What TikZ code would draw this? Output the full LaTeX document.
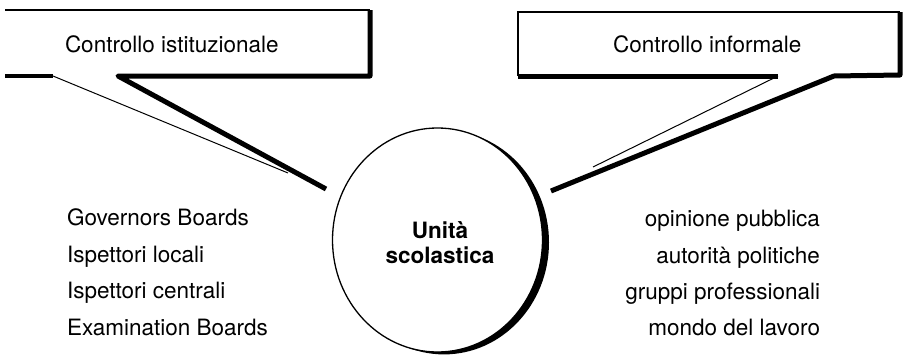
\documentclass[tikz,border=0pt]{standalone}
\usepackage{fontspec}
\setmainfont{TeX Gyre Heros}
\begin{document}
\begin{tikzpicture}[x=1pt,y=-1pt,
  font=\fontsize{22.5}{25}\selectfont,
  txt/.style={inner sep=0pt, outer sep=0pt},
  thinline/.style={line width=1pt},
  edgeline/.style={line width=2pt},
  heavyline/.style={line width=5pt, line join=round},
  circleline/.style={line width=1.3pt}]
\useasboundingbox (0,0) rectangle (905,356);

% left callout box
\coordinate (L1) at (5,10);
\coordinate (L2) at (370,10);
\coordinate (L3) at (370,76);
\coordinate (L4) at (118,76);
\coordinate (Ltip) at (326,189);
\coordinate (L5) at (53,76);
\coordinate (L6) at (5,76);
\coordinate (Lthin) at (288,173);
\draw[edgeline] (L1) -- (L2);
\draw[heavyline] (L2) -- (L3) -- (L4) -- (Ltip);
\draw[line width=4pt] (L6) -- (L5);
\draw[thinline] (L5) -- (Lthin);

% right callout box
\coordinate (R1) at (518,12);
\coordinate (R2) at (900,12);
\coordinate (R3) at (900,75);
\coordinate (R4) at (834,76);
\coordinate (Rtip) at (551,191);
\coordinate (R5) at (778,76);
\coordinate (R6) at (518,76);
\coordinate (Rthin) at (593,167);
\draw[edgeline] (R6) -- (R1) -- (R2);
\draw[heavyline] (R2) -- (R3) -- (R4) -- (Rtip);
\draw[heavyline] (R6) -- (R5);
\draw[thinline] (R5) -- (Rthin);

% central unit
\draw[circleline] (437.5,240) ellipse [x radius=105pt, y radius=112pt];
\begin{scope}
  \clip (370,428) -- (506,52) -- (700,120) -- (564,496) -- cycle;
  \fill[even odd rule] (444,242.4) ellipse [x radius=105pt, y radius=112pt]
                       (437.5,240) ellipse [x radius=105pt, y radius=112pt];
\end{scope}
\node[txt, anchor=base] (u1) at (440,238) {\bfseries Unità};
\node[txt, anchor=base] (u2) at (440,263) {\bfseries scolastica};

% headers
\node[txt, anchor=base west] (ci) at (65,52) {Controllo istituzionale};
\node[txt, anchor=base west] (cf) at (613,52) {Controllo informale};

% left list
\node[txt, anchor=base west] (g1) at (67,225) {Governors Boards};
\node[txt, anchor=base west] (g2) at (67,262) {Ispettori locali};
\node[txt, anchor=base west] (g3) at (67,298) {Ispettori centrali};
\node[txt, anchor=base west] (g4) at (67,335) {Examination Boards};

% right list
\node[txt, anchor=base east] (o1) at (820,226) {opinione pubblica};
\node[txt, anchor=base east] (o2) at (820,263) {autorità politiche};
\node[txt, anchor=base east] (o3) at (820,299) {gruppi professionali};
\node[txt, anchor=base east] (o4) at (820,335) {mondo del lavoro};
\end{tikzpicture}
\end{document}
